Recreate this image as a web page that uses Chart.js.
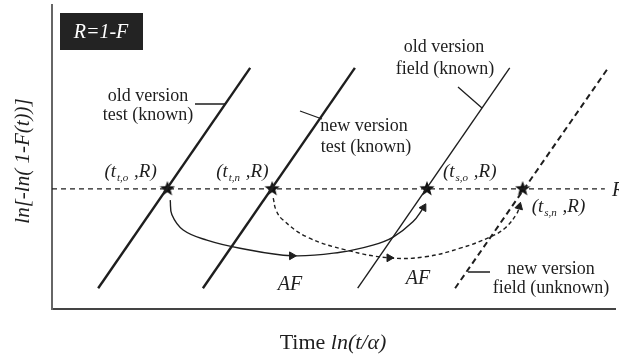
<!DOCTYPE html>
<html>
<head>
<meta charset="utf-8">
<script src="https://cdn.jsdelivr.net/npm/chart.js@4.4.1/dist/chart.umd.min.js"></script>
<style>
    body { margin: 0; background: #fff; }
    #wrap { width: 619px; height: 362px; position: relative; }
</style>
</head>
<body>
<div id="wrap"><canvas id="weibullChart"></canvas></div>
<script>
// Weibull plot: x = ln(t/alpha), y = ln[-ln(1-F(t))]
const levelR = 2.37;                       // common reliability level R
const starX = [2.05, 3.91, 6.66, 8.36];    // t_t,o  t_t,n  t_s,o  t_s,n
const lineY = [0.41, 4.76];                // vertical extent of the four lines
const oldTestX = [0.82, 3.52];
const newTestX = [2.68, 5.38];
const oldFieldX = [5.43, 8.13];
const newFieldX = [7.16, 9.88];
const levelX = [0, 9.82];

// acceleration factor arcs (old: solid, new: dashed)
const afOldX = [2.10, 2.13, 2.33, 2.75, 3.34, 4.26, 5.12, 5.70, 6.06, 6.41, 6.60];
const afOldY = [2.15, 1.86, 1.56, 1.36, 1.20, 1.05, 1.12, 1.26, 1.42, 1.72, 2.00];
const afNewX = [3.93, 3.98, 4.10, 4.53, 5.24, 5.99, 6.63, 7.25, 7.78, 8.05, 8.26, 8.30];
const afNewY = [2.19, 1.95, 1.76, 1.42, 1.16, 1.01, 1.03, 1.20, 1.42, 1.60, 1.89, 2.02];

const SERIF = '"Liberation Serif", "DejaVu Serif", serif';
const INK = '#1e1e1e';

function pts(xs, ys) {
    return xs.map((x, i) => ({ x: x, y: ys[i] }));
}

// filled five-point star used as point style
function makeStar(size) {
    const c = document.createElement('canvas');
    c.width = size; c.height = size;
    const g = c.getContext('2d');
    const r = size / 2, ri = r * 0.42;
    g.beginPath();
    for (let i = 0; i < 10; i++) {
        const a = -Math.PI / 2 + i * Math.PI / 5;
        const rr = i % 2 === 0 ? r : ri;
        g.lineTo(r + rr * Math.cos(a), r + rr * Math.sin(a));
    }
    g.closePath();
    g.fillStyle = '#111';
    g.fill();
    return c;
}

// arrowheads sit on chosen points of the arc
function arrowProps(n, mid, lastRot) {
    const radius = [], rot = [];
    for (let i = 0; i < n; i++) {
        radius.push(i === mid || i === n - 1 ? 4.5 : 0);
        rot.push(i === mid ? 90 : lastRot);
    }
    return { radius, rot };
}

const oldArrows = arrowProps(afOldX.length, 5, 30);
const newArrows = arrowProps(afNewX.length, 5, 15);

function straight(xs, width, dash) {
    return {
        data: [{ x: xs[0], y: lineY[0] }, { x: xs[1], y: lineY[1] }],
        showLine: true,
        borderColor: INK,
        borderWidth: width,
        borderDash: dash || [],
        pointRadius: 0
    };
}

// text for a point label such as (t_t,o ,R)
function drawPointLabel(ctx, left, base, sub) {
    ctx.textAlign = 'left';
    ctx.font = 'italic 19px ' + SERIF;
    ctx.fillText('(t', left, base);
    let x = left + ctx.measureText('(t').width;
    ctx.font = 'italic 11px ' + SERIF;
    ctx.fillText(sub, x + 1, base + 4);
    x += ctx.measureText(sub).width + 2;
    ctx.font = 'italic 19px ' + SERIF;
    ctx.fillText(' ,R)', x, base);
}

const annotations = {
    id: 'annotations',
    afterDatasetsDraw(chart) {
        const ctx = chart.ctx;
        const sx = chart.scales.x, sy = chart.scales.y;
        const ry = sy.getPixelForValue(levelR);
        ctx.save();
        ctx.fillStyle = INK;
        ctx.strokeStyle = INK;
        ctx.textBaseline = 'alphabetic';

        // R = 1 - F tag
        ctx.fillStyle = '#232323';
        ctx.fillRect(60, 13, 83, 37);
        ctx.fillStyle = '#fff';
        ctx.font = 'italic 20px ' + SERIF;
        ctx.textAlign = 'center';
        ctx.fillText('R=1-F', 101, 38);

        ctx.fillStyle = INK;
        const p = starX.map(v => sx.getPixelForValue(v));
        drawPointLabel(ctx, p[0] - 63, ry - 12, 't,o');
        drawPointLabel(ctx, p[1] - 56, ry - 12, 't,n');
        drawPointLabel(ctx, p[2] + 16, ry - 12, 's,o');
        drawPointLabel(ctx, p[3] + 9, ry + 23, 's,n');

        // R at the end of the level line
        ctx.font = 'italic 20px ' + SERIF;
        ctx.textAlign = 'left';
        ctx.fillText('R', 612, ry + 7);

        // line captions
        ctx.font = '18px ' + SERIF;
        ctx.textAlign = 'center';
        ctx.fillText('old version', 148, 101);
        ctx.fillText('test (known)', 148, 120);
        ctx.fillText('new version', 364, 131);
        ctx.fillText('test (known)', 366, 152);
        ctx.fillText('old version', 444, 52);
        ctx.fillText('field (known)', 445, 74);
        ctx.fillText('new version', 551, 274);
        ctx.fillText('field (unknown)', 551, 293);

        ctx.font = 'italic 20px ' + SERIF;
        ctx.fillText('AF', 290, 290);
        ctx.fillText('AF', 418, 284);

        // leader lines
        ctx.lineWidth = 1.3;
        ctx.beginPath();
        ctx.moveTo(195, 104); ctx.lineTo(225, 104);
        ctx.moveTo(300, 111); ctx.lineTo(322, 119);
        ctx.moveTo(458, 87); ctx.lineTo(482, 108);
        ctx.moveTo(468, 272); ctx.lineTo(490, 272);
        ctx.stroke();

        // axis titles
        ctx.font = 'italic 22px ' + SERIF;
        const w2 = ctx.measureText('ln(t/α)').width;
        ctx.font = '22px ' + SERIF;
        const w1 = ctx.measureText('Time ').width;
        const left = 333 - (w1 + w2) / 2;
        ctx.textAlign = 'left';
        ctx.fillText('Time ', left, 349);
        ctx.font = 'italic 22px ' + SERIF;
        ctx.fillText('ln(t/α)', left + w1, 349);

        ctx.translate(29, 161);
        ctx.rotate(-Math.PI / 2);
        ctx.textAlign = 'center';
        ctx.font = 'italic 21px ' + SERIF;
        ctx.fillText('ln[-ln( 1-F(t))]', 0, 0);
        ctx.restore();
    }
};

new Chart(document.getElementById('weibullChart'), {
    type: 'scatter',
    data: {
        datasets: [
            straight(oldTestX, 2.4),
            straight(newTestX, 2.4),
            straight(oldFieldX, 1.4),
            straight(newFieldX, 2, [6, 4]),
            {
                data: [{ x: levelX[0], y: levelR }, { x: levelX[1], y: levelR }],
                showLine: true,
                borderColor: INK,
                borderWidth: 1.4,
                borderDash: [5, 4],
                pointRadius: 0
            },
            {
                data: pts(afOldX, afOldY),
                showLine: true,
                tension: 0.4,
                borderColor: INK,
                borderWidth: 1.4,
                pointStyle: 'triangle',
                pointRadius: oldArrows.radius,
                pointRotation: oldArrows.rot,
                pointBackgroundColor: INK,
                pointBorderColor: INK,
                pointBorderWidth: 1
            },
            {
                data: pts(afNewX, afNewY),
                showLine: true,
                tension: 0.4,
                borderColor: INK,
                borderWidth: 1.4,
                borderDash: [4, 3],
                pointStyle: 'triangle',
                pointRadius: newArrows.radius,
                pointRotation: newArrows.rot,
                pointBackgroundColor: INK,
                pointBorderColor: INK,
                pointBorderWidth: 1
            },
            {
                data: starX.map(x => ({ x: x, y: levelR })),
                pointStyle: makeStar(16),
                pointRadius: 8
            }
        ]
    },
    options: {
        responsive: true,
        maintainAspectRatio: false,
        animation: false,
        events: [],
        layout: { autoPadding: false, padding: { left: 52, right: 4, top: 5, bottom: 53 } },
        plugins: {
            legend: { display: false },
            tooltip: { enabled: false }
        },
        scales: {
            x: {
                type: 'linear',
                min: 0,
                max: 10,
                ticks: { display: false },
                grid: { display: false },
                border: { display: true, color: '#444', width: 2 },
                afterFit(scale) { scale.height = 0; scale.paddingLeft = 0; scale.paddingRight = 0; }
            },
            y: {
                type: 'linear',
                min: 0,
                max: 6,
                ticks: { display: false },
                grid: { display: false },
                border: { display: true, color: '#666', width: 2 },
                afterFit(scale) { scale.width = 0; scale.paddingTop = 0; scale.paddingBottom = 0; }
            }
        }
    },
    plugins: [annotations]
});
</script>
</body>
</html>
